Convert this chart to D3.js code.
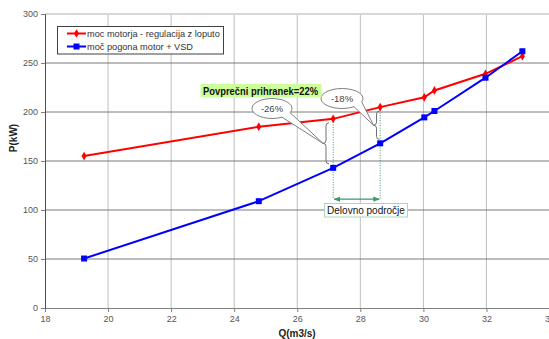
<!DOCTYPE html>
<html>
<head>
<meta charset="utf-8">
<script src="https://cdn.jsdelivr.net/npm/d3@7"></script>
<style>
    body { margin: 0; background: #fff; }
    svg { display: block; font-family: "Liberation Sans", Arial, sans-serif; }
    .axis-text { font-size: 9px; fill: #555; }
</style>
</head>
<body>
<div class="graph-bg"></div>
<script>
var flow = [19.24, 24.78, 27.14, 28.63, 30.03, 30.35, 31.97, 33.14];
var powerValve = [155, 185, 193, 205, 215, 222, 239, 257];
var powerVsd = [50.5, 109, 143, 168, 194.5, 201, 235, 262];
var xTicks = [18, 20, 22, 24, 26, 28, 30, 32, 34];
var yTicks = [0, 50, 100, 150, 200, 250, 300];
var seriesNames = ['moc motorja - regulacija z loputo', 'moč pogona motor + VSD'];
var savings = [{q: 27.14, label: '-26%'}, {q: 28.63, label: '-18%'}];

var w = 549;
var h = 339;
var plotLeft = 45, plotRight = 549.5, plotTop = 14, plotBottom = 308;

drawChart();

function drawChart() {
    var svg = d3.select('.graph-bg').append('svg').attr('width', w).attr('height', h);

    var x = d3.scaleLinear().domain([18, 34]).range([plotLeft, plotRight]);
    var y = d3.scaleLinear().domain([0, 300]).range([plotBottom, plotTop]);

    // vertical grid (light)
    xTicks.forEach(function (t) {
        if (t > 18) drawLine(svg, x(t), plotTop, x(t), plotBottom, '#bdbdbd', 1);
    });
    // horizontal grid (dark)
    yTicks.forEach(function (t) {
        if (t > 0 && t < 300) drawLine(svg, plotLeft, y(t), plotRight, y(t), '#7a7a7a', 1);
    });
    drawLine(svg, plotLeft, plotTop, plotRight, plotTop, '#d6d6d6', 2);

    var xAxis = svg.append('g').attr('transform', 'translate(0,' + plotBottom + ')')
        .call(d3.axisBottom(x).tickValues(xTicks).tickSize(4).tickPadding(4));
    var yAxis = svg.append('g').attr('transform', 'translate(' + plotLeft + ',0)')
        .call(d3.axisLeft(y).tickValues(yTicks).tickSize(4).tickPadding(3));
    [xAxis, yAxis].forEach(function (a) {
        a.selectAll('path').attr('stroke', '#808080');
        a.selectAll('line').attr('stroke', '#808080');
        a.selectAll('text').attr('class', 'axis-text');
        a.attr('font-family', null).attr('font-size', null);
    });
    yAxis.select('path').attr('stroke', '#505050');

    svg.append('text').attr('x', 297).attr('y', 337).attr('text-anchor', 'middle')
        .attr('font-size', 10).attr('font-weight', 'bold').attr('fill', '#222').text('Q(m3/s)');
    svg.append('text').attr('transform', 'translate(17,138) rotate(-90)').attr('text-anchor', 'middle')
        .attr('font-size', 10).attr('font-weight', 'bold').attr('fill', '#222').text('P(kW)');

    // working range marks
    var arrowY = y(111);
    var green = '#3a9a6a';
    savings.forEach(function (s, i) {
        var yTop = y(powerValve[flow.indexOf(s.q)]);
        drawLine(svg, x(s.q), yTop + 3, x(s.q), arrowY, green, 1).attr('stroke-dasharray', '1,1.5');
    });
    var defs = svg.append('defs');
    defs.append('marker').attr('id', 'arr').attr('viewBox', '0 0 10 10').attr('refX', 9).attr('refY', 5)
        .attr('markerWidth', 5).attr('markerHeight', 5).attr('orient', 'auto-start-reverse')
        .append('path').attr('d', 'M0,1L10,5L0,9Z').attr('fill', green);
    drawLine(svg, x(savings[0].q) + 1, arrowY, x(savings[1].q) - 1, arrowY, green, 1.3)
        .attr('marker-start', 'url(#arr)').attr('marker-end', 'url(#arr)');
    svg.append('rect').attr('x', 324.5).attr('y', 203.5).attr('width', 83).attr('height', 13.5)
        .attr('fill', '#fff').attr('stroke', '#a8d8b8').attr('stroke-width', 1);
    svg.append('text').attr('x', 366).attr('y', 214).attr('text-anchor', 'middle')
        .attr('font-size', 10).attr('fill', '#111').text('Delovno področje');

    // series lines
    var line = d3.line().x(function (d) { return x(d[0]); }).y(function (d) { return y(d[1]); });
    var red = d3.zip(flow, powerValve);
    var blue = d3.zip(flow, powerVsd);
    svg.append('path').attr('d', line(red)).attr('fill', 'none').attr('stroke', '#ff0000').attr('stroke-width', 2);
    svg.append('path').attr('d', line(blue)).attr('fill', 'none').attr('stroke', '#0000ff').attr('stroke-width', 2);

    var diamond = d3.symbol().type(d3.symbolDiamond).size(22);
    var square = d3.symbol().type(d3.symbolSquare).size(36);
    svg.selectAll('.m-red').data(red).enter().append('path')
        .attr('transform', function (d) { return 'translate(' + x(d[0]) + ',' + y(d[1]) + ')'; })
        .attr('d', diamond).attr('fill', '#ff0000');
    svg.selectAll('.m-blue').data(blue).enter().append('path')
        .attr('transform', function (d) { return 'translate(' + x(d[0]) + ',' + y(d[1]) + ')'; })
        .attr('d', square).attr('fill', '#0000ff');

    // braces and callouts
    var callouts = [
        {cx: 272, cy: 108.5, rx: 20, ry: 10, a1: 25, a2: 60, bx: 323},
        {cx: 342, cy: 98.5, rx: 21, ry: 10, a1: 20, a2: 55, bx: 373.5}
    ];
    savings.forEach(function (s, i) {
        var k = flow.indexOf(s.q);
        var yt = y(powerValve[k]) + 4;
        var yb = y(powerVsd[k]) - 4;
        var c = callouts[i];
        var x0 = c.bx, x1 = c.bx + 6, xm = c.bx + 3, ym = (yt + yb) / 2, r = 3;
        svg.append('path').attr('fill', 'none').attr('stroke', '#707070').attr('stroke-width', 1)
            .attr('d', 'M' + x1 + ',' + yt + 'Q' + xm + ',' + yt + ' ' + xm + ',' + (yt + r) +
                'L' + xm + ',' + (ym - r) + 'Q' + xm + ',' + ym + ' ' + x0 + ',' + ym +
                'Q' + xm + ',' + ym + ' ' + xm + ',' + (ym + r) +
                'L' + xm + ',' + (yb - r) + 'Q' + xm + ',' + yb + ' ' + x1 + ',' + yb);
        drawCallout(svg, c, x0, ym, s.label);
    });

    // green label
    svg.append('rect').attr('x', 200.5).attr('y', 84).attr('width', 121).attr('height', 13.5).attr('fill', '#ccff99');
    svg.append('text').attr('x', 203).attr('y', 94.5).attr('font-size', 10).attr('font-weight', 'bold')
        .attr('fill', '#111').attr('textLength', 115).attr('lengthAdjust', 'spacingAndGlyphs')
        .text('Povprečni prihranek=22%');

    // legend
    svg.append('rect').attr('x', 57.5).attr('y', 26.5).attr('width', 166).attr('height', 27.5)
        .attr('fill', '#fff').attr('stroke', '#404040').attr('stroke-width', 1);
    var colors = ['#ff0000', '#0000ff'];
    var symbols = [diamond, square];
    seriesNames.forEach(function (name, i) {
        var ly = 33.5 + i * 13;
        drawLine(svg, 67, ly, 86, ly, colors[i], 2);
        svg.append('path').attr('transform', 'translate(76.5,' + ly + ')').attr('d', symbols[i]).attr('fill', colors[i]);
        svg.append('text').attr('x', 87).attr('y', ly + 3.5).attr('font-size', 9.2).attr('fill', '#333').text(name);
    });
}

function drawCallout(section, c, tipX, tipY, text) {
    function pt(a) {
        var t = a * Math.PI / 180;
        return [c.cx + c.rx * Math.cos(t), c.cy + c.ry * Math.sin(t)];
    }
    var p1 = pt(c.a1), p2 = pt(c.a2);
    var d = 'M' + p2[0] + ',' + p2[1] + 'A' + c.rx + ',' + c.ry + ' 0 1 1 ' + p1[0] + ',' + p1[1] +
        'L' + tipX + ',' + tipY + 'Z';
    section.append('path').attr('d', d).attr('fill', '#fff').attr('stroke', '#808080').attr('stroke-width', 1);
    section.append('text').attr('x', c.cx).attr('y', c.cy + 3.5).attr('text-anchor', 'middle')
        .attr('font-size', 9.5).attr('fill', '#444').text(text);
}

function drawLine(section, x1, y1, x2, y2, stroke, strokeWidth) {
    return section.append('line').attr('x1', x1).attr('y1', y1).attr('x2', x2).attr('y2', y2)
        .attr('stroke', stroke).attr('stroke-width', strokeWidth);
}
</script>
</body>
</html>
